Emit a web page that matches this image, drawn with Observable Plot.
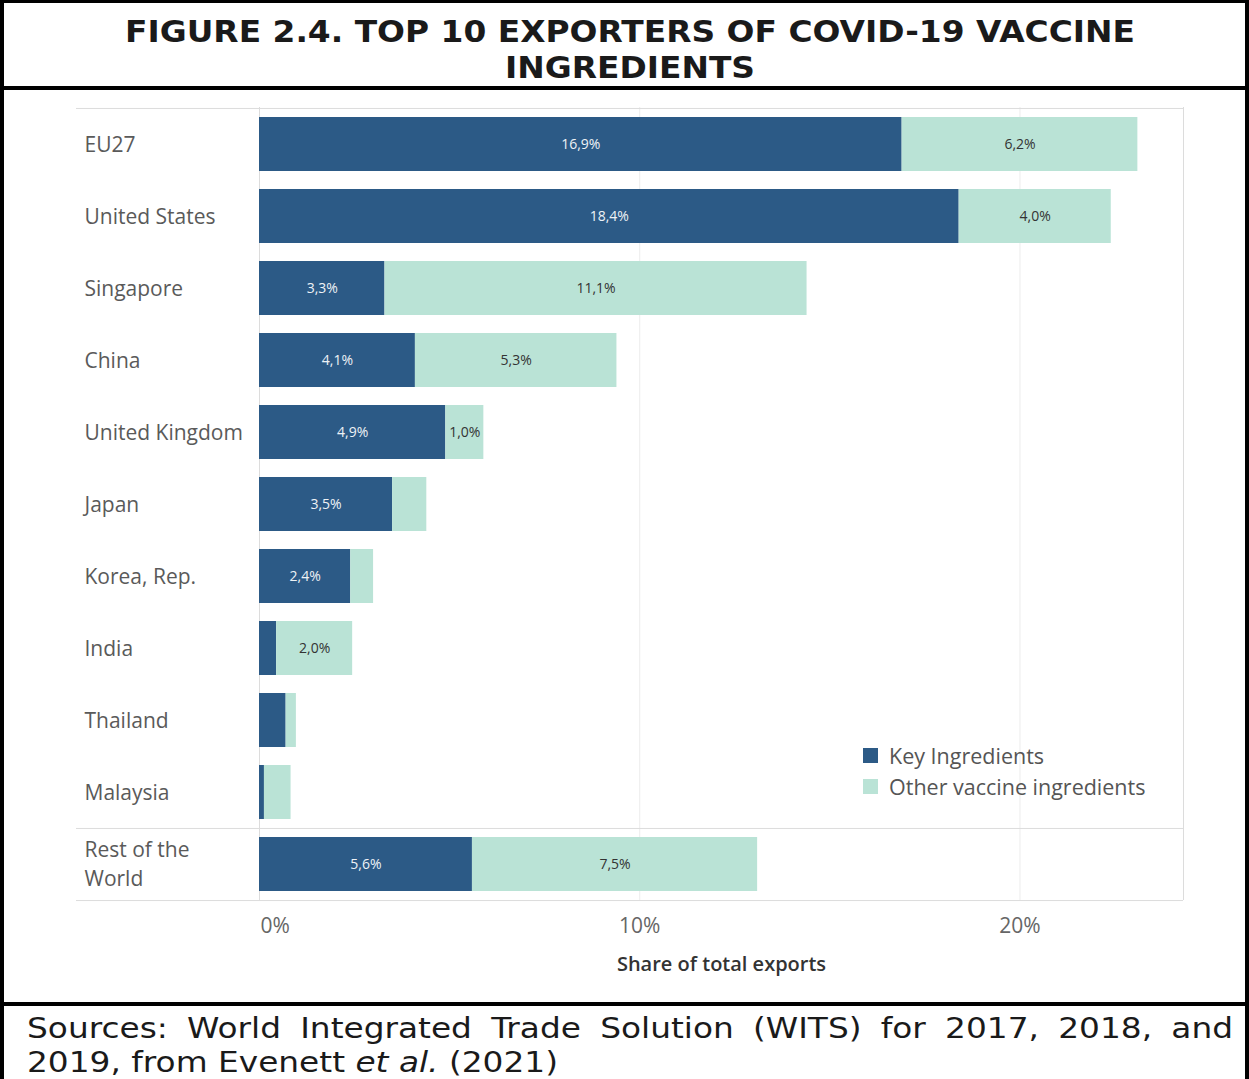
<!DOCTYPE html>
<html><head><meta charset="utf-8">
<script src="https://cdn.jsdelivr.net/npm/d3@7"></script>
<script src="https://cdn.jsdelivr.net/npm/@observablehq/plot@0.6"></script>
<style>
  html, body { margin: 0; padding: 0; background: #fff; }
  #wrap { position: relative; width: 1249px; height: 1079px; box-sizing: border-box;
          border-left: 4px solid #000; border-right: 4px solid #000; border-top: 3px solid #000; overflow: hidden; }
  #title { position: absolute; top: 0; left: 0; width: 1241px; height: 87px; box-sizing: border-box;
           border-bottom: 4px solid #000; padding-top: 10px; overflow: hidden;
           font-family: "DejaVu Sans", Verdana, sans-serif; font-weight: bold; font-size: 31px; line-height: 36px; color: #1a1a1a; }
  #tin { width: 1241px; box-sizing: border-box; padding-left: 11px; text-align: center; transform-origin: 626px 50%; white-space: nowrap; }
  #chart { position: absolute; top: 87px; left: 0; }
  #legend { position: absolute; left: 859px; top: 737px; font-family: "Open Sans", sans-serif; font-size: 21.5px; color: #555; }
  #legend .row { display: flex; align-items: center; height: 31px; }
  #legend .sw { width: 15px; height: 15px; margin-right: 11px; }
  #footer { position: absolute; top: 999px; left: 0; width: 1241px; height: 80px; box-sizing: border-box; border-top: 4px solid #000;
            padding: 6px 0 0 23px; font-family: "DejaVu Sans", Verdana, sans-serif; font-size: 28px; line-height: 34px; color: #1a1a1a; }
  #fin { transform-origin: 0 0; width: 1206px; }
  #fin .l1 { text-align: justify; text-align-last: justify; }
</style>
</head>
<body>
<div id="wrap">
  <div id="title"><div id="tin"><span id="t1">FIGURE 2.4. TOP 10 EXPORTERS OF COVID-19 VACCINE</span><br><span>INGREDIENTS</span></div></div>
  <div id="chart"></div>
  <div id="legend"></div>
  <div id="footer"><div id="fin"><div class="l1">Sources: World Integrated Trade Solution (WITS) for 2017, 2018, and</div><div><span id="l2s">2019, from Evenett <i>et al.</i> (2021)</span></div></div></div>
</div>
<script>
const countries = ["EU27", "United States", "Singapore", "China", "United Kingdom", "Japan", "Korea, Rep.", "India", "Thailand", "Malaysia", "Rest of the World"];
const keyIngredients   = [16.9, 18.4, 3.3, 4.1, 4.9, 3.5, 2.4, 0.45, 0.7, 0.13, 5.6];
const otherIngredients = [6.2, 4.0, 11.1, 5.3, 1.0, 0.9, 0.6, 2.0, 0.27, 0.7, 7.5];
const seriesNames = ["Key Ingredients", "Other vaccine ingredients"];
const seriesColors = ["#2c5a86", "#bae3d6"];
const xTicks = [0, 10, 20];
const xMax = 24.3;
const axisTitle = "Share of total exports";

const data = countries.map((c, i) => ({country: c, key: keyIngredients[i], other: otherIngredients[i]}));
const fmt = v => v >= 1 ? v.toFixed(1).replace(".", ",") + "%" : null;
const wrapLabel = d => d === "Rest of the World" ? "Rest of the\nWorld" : d;

const W = 1241, H = 912, mL = 255, mR = 62, mT = 17, mB = 102;
const step = (H - mT - mB) / countries.length;
const lineColor = "#dcdcdc";

const chart = Plot.plot({
  width: W, height: H, marginLeft: mL, marginRight: mR, marginTop: mT, marginBottom: mB,
  style: {fontFamily: "'Open Sans', sans-serif", background: "white", color: "#555", overflow: "visible"},
  x: {domain: [0, xMax], axis: null},
  y: {domain: countries, paddingInner: 0.25, paddingOuter: 0.125, axis: null},
  marks: [
    Plot.ruleX(xTicks.slice(1), {stroke: "#ececec"}),
    Plot.ruleX([0], {stroke: lineColor}),
    Plot.ruleX([xMax], {stroke: lineColor}),
    Plot.ruleY([countries[0]], {dy: -step / 2, insetLeft: -(mL - 72), stroke: lineColor}),
    Plot.ruleY([countries[countries.length - 1]], {dy: -step / 2, insetLeft: -(mL - 72), stroke: lineColor}),
    Plot.ruleY([countries[countries.length - 1]], {dy: step / 2, insetLeft: -(mL - 72), stroke: lineColor}),
    Plot.barX(data, {y: "country", x1: 0, x2: "key", fill: seriesColors[0]}),
    Plot.barX(data, {y: "country", x1: "key", x2: d => d.key + d.other, fill: seriesColors[1]}),
    Plot.text(data, {y: "country", x: d => d.key / 2, text: d => fmt(d.key), fill: "#eef2f6", fontSize: 14}),
    Plot.text(data, {y: "country", x: d => d.key + d.other / 2, text: d => fmt(d.other), fill: "#333", fontSize: 14}),
    Plot.text(countries, {y: d => d, frameAnchor: "left", textAnchor: "start", dx: -(mL - 80), dy: -2, text: wrapLabel, fontSize: 21, fill: "#5a5a5a", lineHeight: 1.38}),
    Plot.text(xTicks.slice(0, 1), {x: d => d, frameAnchor: "bottom", textAnchor: "start", dx: 1, dy: 32, text: d => d + "%", fontSize: 21, fill: "#666"}),
    Plot.text(xTicks.slice(1), {x: d => d, frameAnchor: "bottom", dy: 32, text: d => d + "%", fontSize: 21, fill: "#666"}),
    Plot.text([axisTitle], {frameAnchor: "bottom", dy: 70, text: d => d, fontSize: 20, fontWeight: 600, fill: "#333"})
  ]
});
document.getElementById("chart").appendChild(chart);

const legend = document.getElementById("legend");
seriesNames.forEach((name, i) => {
  const row = document.createElement("div");
  row.className = "row";
  const sw = document.createElement("div");
  sw.className = "sw";
  sw.style.background = seriesColors[i];
  const t = document.createElement("span");
  t.textContent = name;
  row.appendChild(sw); row.appendChild(t);
  legend.appendChild(row);
});

// match the stretched typography of the original figure
const t1w = document.getElementById("t1").getBoundingClientRect().width;
document.getElementById("tin").style.transform = `scaleX(${1010 / t1w})`;
const l2w = document.getElementById("l2s").getBoundingClientRect().width;
const fs = 531 / l2w;
const fin = document.getElementById("fin");
fin.style.width = (1206 / fs) + "px";
fin.style.transform = `scaleX(${fs})`;
</script>
</body></html>
